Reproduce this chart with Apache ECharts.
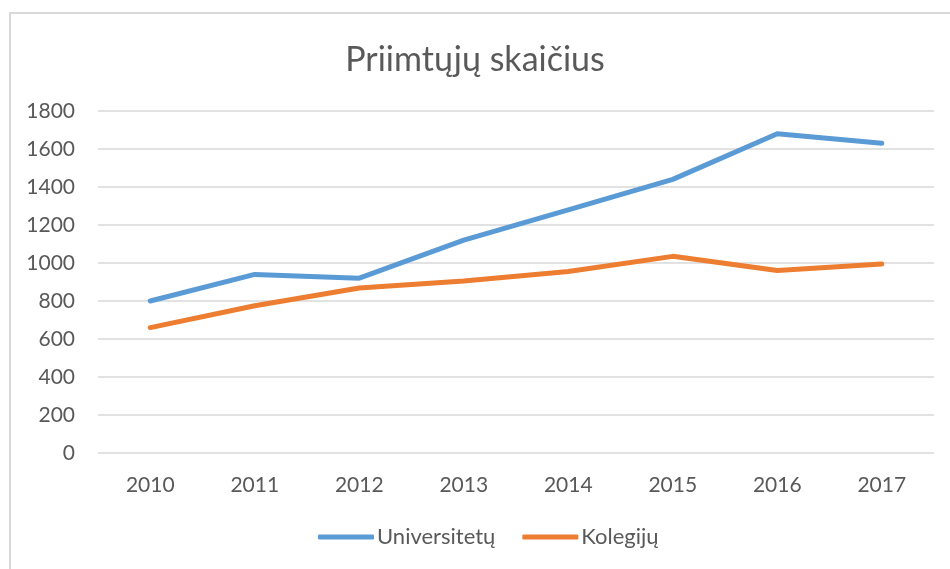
<!DOCTYPE html>
<html><head><meta charset="utf-8">
<script src="https://cdn.jsdelivr.net/npm/echarts@6/dist/echarts.min.js"></script>
<style>html,body{margin:0;padding:0;background:#fff}#c{width:950px;height:569px}</style>
</head><body><div id="c"></div>
<script>
const categories = ['2010','2011','2012','2013','2014','2015','2016','2017'];
const universitetu = [800, 940, 920, 1120, 1280, 1440, 1680, 1630];
const kolegiju = [660, 775, 868, 905, 955, 1035, 960, 995];
const seriesNames = ['Universitetų', 'Kolegijų'];
const titleText = 'Priimtųjų skaičius';

const font = 'Lato, "Open Sans", sans-serif';
const chart = echarts.init(document.getElementById('c'), null, {renderer: 'canvas'});
chart.setOption({
  animation: false,
  backgroundColor: '#fff',
  graphic: [{type: 'rect', shape: {x: 10, y: 13, width: 1000, height: 1000},
    style: {fill: 'none', stroke: '#d9d9d9', lineWidth: 2}, silent: true}],
  title: {text: titleText, left: 'center', top: 38,
    textStyle: {fontFamily: font, fontSize: 34, fontWeight: 'normal', color: '#595959'}},
  legend: {bottom: 16, left: 313, itemWidth: 56, itemHeight: 5, itemGap: 27,
    icon: 'roundRect',
    textStyle: {fontFamily: font, fontSize: 22, color: '#595959', padding: [0,0,0,-2]},
    data: seriesNames},
  grid: {left: 98, right: 16, top: 111, bottom: 116, containLabel: false},
  xAxis: {type: 'category', data: categories, boundaryGap: true,
    axisLine: {show: false}, axisTick: {show: false},
    axisLabel: {fontFamily: font, fontSize: 21, color: '#595959', margin: 22}},
  yAxis: {type: 'value', min: 0, max: 1800, interval: 200,
    axisLine: {show: false}, axisTick: {show: false},
    splitLine: {lineStyle: {color: '#d9d9d9', width: 1.5}},
    axisLabel: {fontFamily: font, fontSize: 21, color: '#595959', margin: 23,
      formatter: v => String(v)}},
  series: [
    {name: seriesNames[0], type: 'line', data: universitetu, symbol: 'none',
      lineStyle: {color: '#5b9bd5', width: 5, cap: 'round', join: 'round'}, itemStyle: {color: '#5b9bd5'}},
    {name: seriesNames[1], type: 'line', data: kolegiju, symbol: 'none',
      lineStyle: {color: '#ed7d31', width: 5, cap: 'round', join: 'round'}, itemStyle: {color: '#ed7d31'}}
  ]
});
</script></body></html>
